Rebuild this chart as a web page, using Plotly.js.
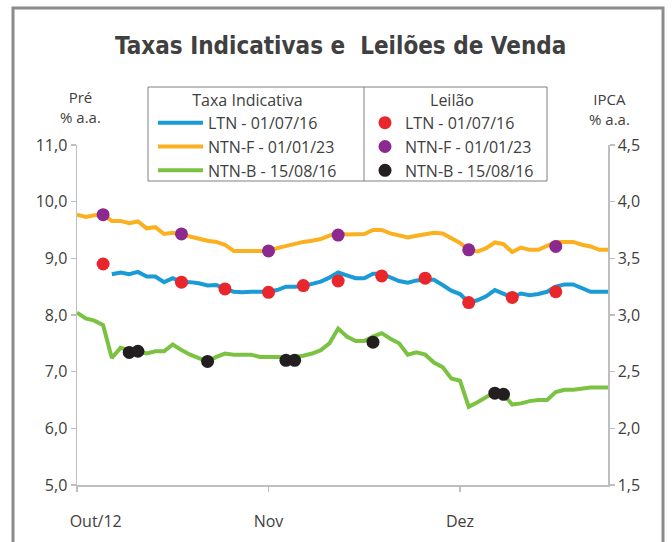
<!DOCTYPE html>
<html>
<head>
<meta charset="utf-8">
<script src="https://cdn.plot.ly/plotly-3.0.1.min.js"></script>
<style>html,body{margin:0;padding:0;background:#fff;}#chart{width:672px;height:542px;}</style>
</head>
<body>
<div id="chart"></div>
<script>
// Business days (category axis)
const dates = [
 '2012-10-01','2012-10-02','2012-10-03','2012-10-04','2012-10-05','2012-10-08','2012-10-09','2012-10-10','2012-10-11','2012-10-15',
 '2012-10-16','2012-10-17','2012-10-18','2012-10-19','2012-10-22','2012-10-23','2012-10-24','2012-10-25','2012-10-26','2012-10-29',
 '2012-10-30','2012-10-31',
 '2012-11-01','2012-11-02','2012-11-05','2012-11-06','2012-11-07','2012-11-08','2012-11-09','2012-11-12','2012-11-13','2012-11-14',
 '2012-11-15','2012-11-16','2012-11-19','2012-11-20','2012-11-21','2012-11-22','2012-11-23','2012-11-26','2012-11-27','2012-11-28',
 '2012-11-29','2012-11-30',
 '2012-12-03','2012-12-04','2012-12-05','2012-12-06','2012-12-07','2012-12-10','2012-12-11','2012-12-12','2012-12-13','2012-12-14',
 '2012-12-17','2012-12-18','2012-12-19','2012-12-20','2012-12-21','2012-12-24','2012-12-26','2012-12-27'
];
const tickDates = ['2012-10-01','2012-11-01','2012-12-03'];
const tickLabels = ['\u00a0\u00a0\u00a0\u00a0\u00a0\u00a0\u00a0\u00a0\u00a0Out/12','Nov','Dez'];

// Taxa indicativa (% a.a.)
const ltn = [null,null,null,null,8.72,8.75,8.72,8.76,8.68,8.68,
 8.58,8.65,8.58,8.58,8.56,8.52,8.53,8.46,8.41,8.40,
 8.41,8.41,8.41,8.44,8.50,8.50,8.51,8.55,8.59,8.66,
 8.75,8.70,8.65,8.65,8.73,8.73,8.67,8.60,8.57,8.61,
 8.62,8.62,8.53,8.43,8.37,8.22,8.26,8.33,8.44,8.37,
 8.31,8.38,8.35,8.37,8.41,8.50,8.54,8.54,8.48,8.41,
 8.41,8.41];
const ntnf = [9.77,9.73,9.76,9.77,9.66,9.66,9.62,9.65,9.53,9.55,
 9.43,9.45,9.42,9.38,9.34,9.31,9.29,9.24,9.13,9.13,
 9.13,9.13,9.13,9.18,9.22,9.26,9.29,9.31,9.34,9.40,
 9.45,9.42,9.42,9.43,9.50,9.50,9.44,9.40,9.37,9.40,
 9.43,9.45,9.44,9.36,9.27,9.15,9.12,9.18,9.28,9.25,
 9.11,9.19,9.15,9.15,9.22,9.29,9.29,9.29,9.24,9.21,
 9.15,9.15];
const ntnb = [3.02,2.97,2.95,2.91,2.62,2.71,2.69,2.68,2.66,2.68,
 2.68,2.74,2.69,2.65,2.62,2.59,2.63,2.66,2.65,2.65,
 2.65,2.63,2.63,2.63,2.63,2.63,2.64,2.66,2.69,2.75,
 2.88,2.81,2.77,2.77,2.81,2.84,2.79,2.75,2.65,2.67,
 2.65,2.58,2.54,2.44,2.42,2.19,2.23,2.28,2.32,2.30,
 2.21,2.22,2.24,2.25,2.25,2.32,2.34,2.34,2.35,2.36,
 2.36,2.36];

// Leilões
const leilaoLtnDates = ['2012-10-04','2012-10-18','2012-10-25','2012-11-01','2012-11-07','2012-11-13','2012-11-20','2012-11-27','2012-12-04','2012-12-11','2012-12-18'];
const leilaoLtnRates = [8.90,8.58,8.46,8.40,8.52,8.60,8.69,8.65,8.22,8.31,8.41];
const leilaoNtnfDates = ['2012-10-04','2012-10-18','2012-11-01','2012-11-13','2012-12-04','2012-12-18'];
const leilaoNtnfRates = [9.77,9.43,9.13,9.41,9.15,9.21];
const leilaoNtnbDates = ['2012-10-09','2012-10-10','2012-10-23','2012-11-05','2012-11-06','2012-11-19','2012-12-07','2012-12-10'];
const leilaoNtnbRates = [2.67,2.68,2.59,2.60,2.60,2.76,2.31,2.30];

const FONT = '"Open Sans", "Noto Sans", sans-serif';
const TXT = '#404040';
const AX = '#bfbfbf';

const traces = [
 {x: dates, y: ltn, name: 'LTN - 01/07/16', type: 'scatter', mode: 'lines', line: {color: '#1a9bd7', width: 4}, legend: 'legend', connectgaps: false},
 {x: dates, y: ntnf, name: 'NTN-F - 01/01/23', type: 'scatter', mode: 'lines', line: {color: '#fbb020', width: 4}, legend: 'legend'},
 {x: dates, y: ntnb, name: 'NTN-B - 15/08/16', type: 'scatter', mode: 'lines', line: {color: '#7cc242', width: 4}, yaxis: 'y2', legend: 'legend'},
 {x: leilaoLtnDates, y: leilaoLtnRates, name: 'LTN - 01/07/16', type: 'scatter', mode: 'markers', marker: {color: '#e8262b', size: 13}, legend: 'legend2'},
 {x: leilaoNtnfDates, y: leilaoNtnfRates, name: 'NTN-F - 01/01/23', type: 'scatter', mode: 'markers', marker: {color: '#8b2990', size: 13}, legend: 'legend2'},
 {x: leilaoNtnbDates, y: leilaoNtnbRates, name: 'NTN-B - 15/08/16', type: 'scatter', mode: 'markers', marker: {color: '#231f20', size: 13}, yaxis: 'y2', legend: 'legend2'}
];

function px2x(p){ return (p - 77) / 531; }
function px2y(p){ return (485 - p) / 340; }

const layout = {
 width: 672, height: 542,
 margin: {l: 77, r: 64, t: 145, b: 57, pad: 0},
 paper_bgcolor: '#ffffff', plot_bgcolor: '#ffffff',
 separators: ',.',
 font: {family: FONT, size: 16, color: TXT},
 title: {text: 'Taxas Indicativas e\u00a0 Leilões de Venda', x: 0.507, xanchor: 'center', y: 0.915, yanchor: 'middle',
   font: {family: '"Liberation Sans Narrow", "DejaVu Sans Condensed", sans-serif', size: 24, weight: 700, color: TXT}},
 xaxis: {type: 'category', range: [0, 61], showgrid: false, zeroline: false, showline: true, linecolor: AX, linewidth: 1.5,
   ticks: 'outside', ticklen: 5, tickcolor: AX, tickwidth: 1.5, tickmode: 'array', tickvals: tickDates, ticktext: tickLabels,
   tickfont: {size: 16, color: TXT}, ticklabelstandoff: 16, fixedrange: true},
 yaxis: {range: [5, 11], dtick: 1, tick0: 5, tickformat: '.1f', showgrid: false, zeroline: false, showline: true, linecolor: AX, linewidth: 1.5,
   ticks: 'outside', ticklen: 5, tickcolor: AX, tickwidth: 1.5, tickfont: {size: 16, color: TXT}, fixedrange: true},
 yaxis2: {range: [1.5, 4.5], dtick: 0.5, tick0: 1.5, tickformat: '.1f', overlaying: 'y', side: 'right', showgrid: false, zeroline: false,
   showline: true, linecolor: AX, linewidth: 1.5, ticks: 'outside', ticklen: 5, tickcolor: AX, tickwidth: 1.5,
   tickfont: {size: 16, color: TXT}, fixedrange: true},
 legend: {x: px2x(153), y: px2y(85), xanchor: 'left', yanchor: 'top', bgcolor: 'rgba(0,0,0,0)', borderwidth: 0,
   font: {size: 16, color: TXT}, itemwidth: 45, tracegroupgap: 0,
   title: {text: 'Taxa Indicativa', side: 'top center', font: {size: 16, color: TXT}}},
 legend2: {x: px2x(365), y: px2y(85), xanchor: 'left', yanchor: 'top', bgcolor: 'rgba(0,0,0,0)', borderwidth: 0,
   font: {size: 16, color: TXT}, itemwidth: 30, tracegroupgap: 0,
   title: {text: 'Leilão', side: 'top center', font: {size: 16, color: TXT}}},
 shapes: [
   {type: 'rect', xref: 'paper', yref: 'paper', x0: px2x(13), x1: px2x(663), y0: px2y(548), y1: px2y(8), line: {color: '#8c8c8c', width: 3}, fillcolor: 'rgba(0,0,0,0)', layer: 'below'},
   {type: 'rect', xref: 'paper', yref: 'paper', x0: px2x(148), x1: px2x(547), y0: px2y(181), y1: px2y(87), line: {color: '#808080', width: 1}, fillcolor: 'rgba(0,0,0,0)'},
   {type: 'line', xref: 'paper', yref: 'paper', x0: px2x(364), x1: px2x(364), y0: px2y(181), y1: px2y(87), line: {color: '#808080', width: 1}}
 ],
 annotations: [
   {text: 'Pré<br>% a.a.', xref: 'paper', yref: 'paper', x: px2x(80), y: px2y(107), showarrow: false, xanchor: 'center', yanchor: 'middle', align: 'center', font: {size: 15, color: TXT}},
   {text: 'IPCA<br>% a.a.', xref: 'paper', yref: 'paper', x: px2x(609), y: px2y(109), showarrow: false, xanchor: 'center', yanchor: 'middle', align: 'center', font: {size: 15, color: TXT}}
 ],
 showlegend: true
};

Plotly.newPlot('chart', traces, layout, {displayModeBar: false, staticPlot: true});
</script>
</body>
</html>
